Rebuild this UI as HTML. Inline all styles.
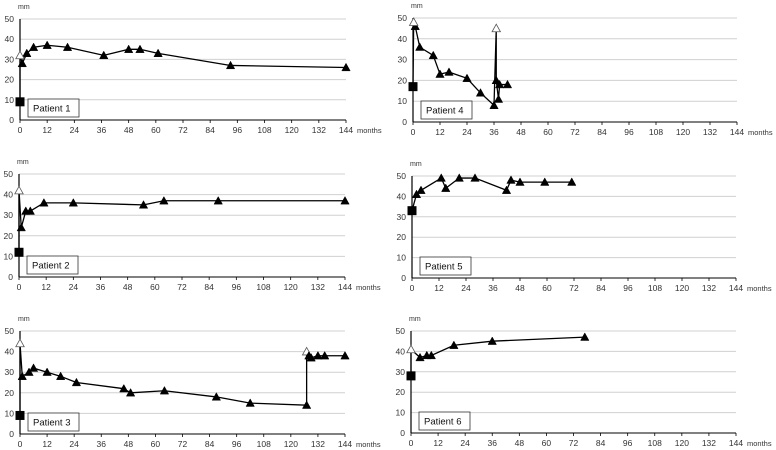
<!DOCTYPE html>
<html><head><meta charset="utf-8"><style>
body{margin:0;background:#fff;}
svg{display:block;font-family:"Liberation Sans",sans-serif;}
</style></head><body>
<svg id="c" width="776" height="450"></svg>
<script>
const xTicks=[0,12,24,36,48,60,72,84,96,108,120,132,144];
const yTicks=[0,10,20,30,40,50];
const panelNames=["Patient 1","Patient 2","Patient 3","Patient 4","Patient 5","Patient 6"];
const preOp=[9,12,9,17,33,28];
const openPts1=[[0,32],[0,42],[0,44],[0.3,48],null,[0,41]];
const p1Months=[1,3,6,12,21,37,48,53,61,93,144];
const p1Vals=[28,33,36,37,36,32,35,35,33,27,26];
const p2Months=[1,3,5,11,24,55,64,88,144];
const p2Vals=[24,32,32,36,36,35,37,37,37];
const p3Months=[1,4,6,12,18,25,46,49,64,87,102,127,127,128,129,132,135,144];
const p3Vals=[28,30,32,30,28,25,22,20,21,18,15,14,40,38,37,38,38,38];
const p3Open=[false,false,false,false,false,false,false,false,false,false,false,false,true,false,false,false,false,false];
const p4Months=[1,3,9,12,16,24,30,36,37,37,38,38.5,42];
const p4Vals=[46,36,32,23,24,21,14,8,45,20,11,18,18];
const p4Open=[false,false,false,false,false,false,false,false,true,false,false,false,false];
const p5Months=[2,4,13,15,21,28,42,44,48,59,71];
const p5Vals=[41,43,49,44,49,49,43,48,47,47,47];
const p6Months=[4,7,9,19,36,77];
const p6Vals=[37,38,38,43,45,47];
const series=[[p1Months,p1Vals,null],[p2Months,p2Vals,null],[p3Months,p3Vals,p3Open],[p4Months,p4Vals,p4Open],[p5Months,p5Vals,null],[p6Months,p6Vals,null]];
const geo=[[20,346,19,120],[19,345,174,277],[20,345,331,434],[413,737,18,122],[412,736,176,278],[411,736,331,433]];
const NS="http://www.w3.org/2000/svg";
const svg=document.getElementById('c');
function mk(t,a,p){const e=document.createElementNS(NS,t);for(const k in a)e.setAttribute(k,a[k]);(p||svg).appendChild(e);return e;}
function tri(g,x,y,open){const s=4.2;const e=mk('polygon',{points:`${x},${y-s} ${x-s},${y+s*0.8} ${x+s},${y+s*0.8}`,fill:open?'#fff':'#000',stroke:open?'#555':'#000','stroke-width':open?0.8:0.5},g);return e;}
for(let i=0;i<6;i++){
  const [x0,x1,yT,yB]=geo[i];
  const X=m=>x0+(x1-x0)*m/144, Y=v=>yB+(yT-yB)*v/50;
  const g=mk('g',{});
  
  
  yTicks.forEach(v=>{
    if(v>0){const l=mk('line',{x1:x0,x2:x1,y1:Y(v),y2:Y(v),stroke:'#d0d0d0','stroke-width':1},g);}
    const t=mk('text',{x:x0-6,y:Y(v)+3,'text-anchor':'end','font-size':8.5,fill:'#333'},g);t.textContent=v;
    
  });
  const ax=mk('line',{x1:x0,x2:x0,y1:yT,y2:yB,stroke:'#000','stroke-width':1.2},g);
  
  const bx=mk('line',{x1:x0,x2:x1,y1:yB,y2:yB,stroke:'#000','stroke-width':1},g);
  
  xTicks.forEach(m=>{
    mk('line',{x1:X(m),x2:X(m),y1:yB,y2:yB+3,stroke:'#000','stroke-width':0.8},g);
    const t=mk('text',{x:X(m),y:yB+13,'text-anchor':'middle','font-size':8.5,fill:'#333'},g);t.textContent=m;
    
  });
  const mu=mk('text',{x:x1+11,y:yB+13,'font-size':7.5,fill:'#333'},g);mu.textContent='months';
  
  const mm=mk('text',{x:x0-2,y:yT-10,'font-size':7,fill:'#333'},g);mm.textContent='mm';
  
  const rb=mk('rect',{x:x0+8,y:yB-21,width:51,height:18,fill:'#fff',stroke:'#333','stroke-width':0.8},g);
  
  const lt=mk('text',{x:x0+13,y:yB-8.5,'font-size':9.5,fill:'#111'},g);lt.textContent=panelNames[i];
  
  const [ms,vs,op]=series[i];
  const pts=[[X(0),Y(preOp[i])]];
  if(openPts1[i])pts.push([X(openPts1[i][0]),Y(openPts1[i][1])]);
  ms.forEach((m,k)=>pts.push([X(m),Y(vs[k])]));
  const pl=mk('polyline',{points:pts.map(p=>p.join(',')).join(' '),fill:'none',stroke:'#000','stroke-width':1.3},g);
  
  ms.forEach((m,k)=>{const e=tri(g,X(m),Y(vs[k]),op&&op[k]);
    });
  if(openPts1[i]){const e=tri(g,X(openPts1[i][0]),Y(openPts1[i][1]),true);
    }
  const sq=mk('rect',{x:X(0)-4.5,y:Y(preOp[i])-4.5,width:9,height:9,fill:'#000'},g);
  
}
</script>
</body></html>
